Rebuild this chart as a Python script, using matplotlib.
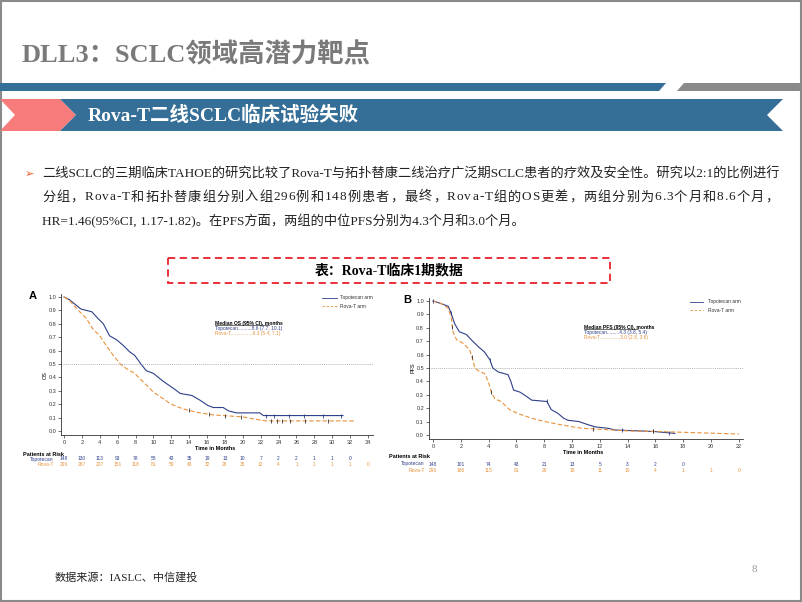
import numpy as np
import matplotlib
matplotlib.use("Agg")
import matplotlib.pyplot as plt
from matplotlib.patches import Polygon, Rectangle
from matplotlib import transforms

plt.rcParams['font.family'] = ['Liberation Serif', 'Noto Sans CJK SC', 'DejaVu Sans']

# ---- data ----
os_topo_t = [0, 0.6, 1.9, 2.5, 3.1, 3.8, 4.4, 5.1, 5.9, 6.6, 7.35, 7.9, 8.6, 9.2, 10.0, 11.1,
             12.2, 13.0, 14.3, 15.2, 16.1, 16.7, 17.8, 18.4, 19.3, 21.9, 22.3, 31.2]
os_topo_s = [1.0, 0.98, 0.91, 0.90, 0.89, 0.84, 0.80, 0.71, 0.68, 0.64, 0.59, 0.565, 0.50, 0.45, 0.43, 0.37,
             0.32, 0.28, 0.265, 0.23, 0.19, 0.175, 0.175, 0.15, 0.135, 0.135, 0.115, 0.115]
os_rova_t = [0, 0.6, 1.75, 2.5, 3.25, 4.0, 4.7, 5.5, 6.3, 7.0, 7.9, 8.8, 10.0, 11.1, 12.0, 13.3,
             14.8, 16.7, 18.9, 20.0, 21.2, 22.6, 32.4]
os_rova_s = [1.0, 0.975, 0.89, 0.84, 0.76, 0.71, 0.64, 0.565, 0.50, 0.465, 0.43, 0.37, 0.29, 0.24, 0.20, 0.165,
             0.14, 0.12, 0.11, 0.105, 0.09, 0.075, 0.075]
os_topo_cens = [22.6, 23.5, 25.2, 26.8, 29.0, 31.0]
os_rova_cens = [14.0, 16.2, 18.0, 19.8, 23.2, 23.8, 24.4, 25.3, 27.0, 29.5]

pfs_topo_t = [0, 0.6, 1.1, 1.3, 1.56, 1.9, 2.4, 2.76, 3.25, 3.7, 4.1, 4.3, 4.7, 5.4, 5.6, 5.8, 6.25,
              6.7, 7.1, 8.2, 8.5, 9.0, 9.4, 9.7, 10.5, 11.2, 11.7, 12.6, 13.1, 15.0, 16.0, 17.4]
pfs_topo_s = [1.0, 0.98, 0.96, 0.91, 0.83, 0.77, 0.75, 0.71, 0.66, 0.62, 0.56, 0.50, 0.47, 0.45, 0.40, 0.335, 0.32,
              0.29, 0.26, 0.25, 0.19, 0.16, 0.125, 0.11, 0.10, 0.075, 0.06, 0.05, 0.037, 0.03, 0.025, 0.012]
pfs_rova_t = [0, 0.6, 1.1, 1.32, 1.44, 1.7, 2.16, 2.64, 2.9, 3.0, 3.4, 3.7, 3.97, 4.2, 4.45, 4.9, 5.5,
              6.1, 7.1, 8.05, 9.25, 10.7, 12.1, 14.1, 16.5, 18.9, 22.0]
pfs_rova_s = [1.0, 0.98, 0.945, 0.87, 0.77, 0.71, 0.685, 0.635, 0.55, 0.50, 0.47, 0.46, 0.40, 0.32, 0.27, 0.25, 0.19,
              0.16, 0.125, 0.10, 0.075, 0.05, 0.042, 0.03, 0.025, 0.017, 0.007]
pfs_topo_cens = [0.0, 1.3, 4.1, 8.2, 13.6, 15.8, 17.0]
pfs_rova_cens = [1.4, 2.8, 4.2, 11.5, 15.8]

os_ticks = list(range(0, 36, 2))
os_risk_topo = [148, 130, 113, 93, 78, 58, 43, 35, 19, 13, 10, 7, 2, 2, 1, 1, 0]
os_risk_rova = [296, 267, 207, 151, 118, 81, 59, 43, 32, 26, 15, 12, 4, 1, 1, 1, 1, 0]
pfs_ticks = list(range(0, 24, 2))
pfs_risk_topo = [148, 101, 74, 43, 21, 13, 5, 3, 2, 0]
pfs_risk_rova = [296, 186, 115, 61, 26, 18, 11, 10, 4, 1, 1, 0]

BLUE = '#2f3f88'
ORANGE = '#e8923c'
BAR = '#356f97'

W, H = 802, 602
fig = plt.figure(figsize=(W / 100, H / 100), dpi=100)
bg = fig.add_axes([0, 0, 1, 1])
bg.set_xlim(0, W)
bg.set_ylim(H, 0)
bg.axis('off')
renderer = fig.canvas.get_renderer()

# slide frame and header
bg.add_patch(Rectangle((1, 1), W - 2.5, H - 2.5, fill=False, ec='#8a8a8a', lw=1.5))
bg.text(22, 55, 'DLL3：SCLC领域高潜力靶点', fontsize=19, fontweight='bold', color='#7a7a7a', va='center')
bg.add_patch(Polygon([(0, 83), (666, 83), (659, 91), (0, 91)], color=BAR, lw=0))
bg.add_patch(Polygon([(684, 83), (800, 83), (800, 91), (677, 91)], color='#8a8a8a', lw=0))
bg.add_patch(Polygon([(0, 99), (60, 99), (76, 115), (60, 131), (0, 131), (15, 115)], color='#f77b7b', lw=0))
bg.add_patch(Polygon([(60, 99), (783, 99), (767, 115), (783, 131), (60, 131), (76, 115)], color=BAR, lw=0))
bg.text(88, 115, 'Rova-T二线SCLC临床试验失败', fontsize=14, fontweight='bold', color='white', va='center')


def justified(text, x0, x1, y, **kw):
    # spread the characters of one line evenly between x0 and x1
    parts = [bg.text(0, y, ch, va='center', **kw) for ch in text]
    widths = [p.get_window_extent(renderer).width for p in parts]
    gap = (x1 - x0 - sum(widths)) / (len(parts) - 1)
    x = x0
    for p, w in zip(parts, widths):
        p.set_x(x)
        x += w + gap


# bullet text
bg.text(29, 174, '➢', fontsize=8, color='#e8561e', va='center', ha='center', family='DejaVu Sans')
lines = ['二线SCLC的三期临床TAHOE的研究比较了Rova-T与拓扑替康二线治疗广泛期SCLC患者的疗效及安全性。研究以2:1的比例进行',
         '分组，Rova-T和拓扑替康组分别入组296例和148例患者，最终，Rova-T组的OS更差，两组分别为6.3个月和8.6个月，',
         'HR=1.46(95%CI, 1.17-1.82)。在PFS方面，两组的中位PFS分别为4.3个月和3.0个月。']
bg.text(42, 174, lines[0], fontsize=9.5, color='#222222', va='center')
justified(lines[1], 42, 778, 197.5, fontsize=9.5, color='#222222')
bg.text(42, 221, lines[2], fontsize=9.5, color='#222222', va='center')

# red dashed title box
bg.add_patch(Rectangle((168, 258), 442, 25, fill=False, ec='#e8202a', lw=1.3, ls=(0, (4, 2.5))))
bg.text(389, 270.5, '表：Rova-T临床1期数据', fontsize=10, fontweight='bold', ha='center', va='center')

bg.text(55, 577, '数据来源：IASLC、中信建投', fontsize=8, va='center', color='#222222')
bg.text(752, 570, '8', fontsize=8, va='center', color='#9a9a9a')


def px_axes(l, r, t, b):
    return [l / W, 1 - b / H, (r - l) / W, (b - t) / H]


def km_at(t, s, c):
    return np.interp(c, t, s)


def km_panel(rect, xmax, ticks, topo, rova, cens, risk, labels, pos):
    ax = fig.add_axes(px_axes(*rect))
    ax.set_facecolor('none')
    ax.plot(topo[0], topo[1], color=BLUE, lw=0.8)
    ax.plot(rova[0], rova[1], color=ORANGE, lw=0.8, ls=(0, (4, 2)))
    ax.plot(cens[0], km_at(topo[0], topo[1], cens[0]), '|', color=BLUE, ms=2.5, mew=0.6)
    ax.plot(cens[1], km_at(rova[0], rova[1], cens[1]), '|', color='#333333', ms=2.5, mew=0.6)
    ax.axhline(0.5, color='#999999', lw=0.5, ls=(0, (1.5, 1.5)))
    ax.set_xlim(-0.3, xmax)
    ax.set_ylim(-0.03, 1.02)
    ax.set_xticks(ticks)
    ax.set_yticks(np.arange(0, 1.01, 0.1))
    ax.set_yticklabels([f'{v:.1f}' for v in np.arange(0, 1.01, 0.1)])
    for sp in ['top', 'right']:
        ax.spines[sp].set_visible(False)
    for sp in ['left', 'bottom']:
        ax.spines[sp].set_linewidth(0.6)
        ax.spines[sp].set_color('#333333')
    ax.tick_params(labelsize=4, length=2, width=0.5, pad=1.5, colors='#333333')
    for lab in ax.get_xticklabels() + ax.get_yticklabels():
        lab.set_family('Liberation Sans')

    # legend
    lx0, lx1, ltx, ly1, ly2 = pos['legend']
    bg.plot([lx0, lx1], [ly1, ly1], color=BLUE, lw=0.6)
    bg.plot([lx0, lx1], [ly2, ly2], color=ORANGE, lw=0.6, ls=(0, (3, 2)))
    bg.text(ltx, ly1, 'Topotecan arm', fontsize=3.5, va='center', family='Liberation Sans', color='#333333')
    bg.text(ltx, ly2, 'Rova-T arm', fontsize=3.5, va='center', family='Liberation Sans', color='#333333')

    # median box
    mx, my = pos['median']
    bg.text(mx, my, labels['median'], fontsize=3.6, fontweight='bold', va='center', family='Liberation Sans')
    bg.plot([mx, mx + 54], [my + 2.3, my + 2.3], color='black', lw=0.4)
    bg.text(mx, my + 5.5, labels['topo_med'], fontsize=3.5, va='center', color=BLUE, family='Liberation Sans')
    bg.text(mx, my + 11, labels['rova_med'], fontsize=3.5, va='center', color=ORANGE, family='Liberation Sans')

    px, py = pos['panel']
    bg.text(px, py, labels['panel'], fontsize=8, fontweight='bold', va='center', ha='center', family='Liberation Sans')
    yx, yy = pos['ylabel']
    bg.text(yx, yy, labels['ylabel'], fontsize=4, rotation=90, va='center', ha='center', family='Liberation Sans')
    tx, ty = pos['xlabel']
    bg.text(tx, ty, 'Time in Months', fontsize=4, fontweight='bold', va='center', ha='center', family='Liberation Sans')

    # at risk table
    rx, ry, rlab, r1, r2 = pos['risk']
    bg.text(rx, ry, 'Patients at Risk', fontsize=4, fontweight='bold', va='center', family='Liberation Sans')
    bg.text(rlab, r1, 'Topotecan', fontsize=3.6, va='center', ha='right', color=BLUE, family='Liberation Sans')
    bg.text(rlab, r2, 'Rova-T', fontsize=3.6, va='center', ha='right', color=ORANGE, family='Liberation Sans')
    tr = transforms.blended_transform_factory(ax.transData, bg.transData)
    for x, n in zip(ticks, risk[0]):
        ax.text(x, r1, str(n), transform=tr, fontsize=3.5, ha='center', va='center', color=BLUE,
                family='Liberation Sans', clip_on=False)
    for x, n in zip(ticks, risk[1]):
        ax.text(x, r2, str(n), transform=tr, fontsize=3.5, ha='center', va='center', color=ORANGE,
                family='Liberation Sans', clip_on=False)
    return ax


km_panel((61.3, 372.5, 294.3, 435), 34.5, os_ticks,
         (os_topo_t, os_topo_s), (os_rova_t, os_rova_s), (os_topo_cens, os_rova_cens),
         (os_risk_topo, os_risk_rova),
         {'median': 'Median OS (95% CI), months', 'topo_med': 'Topotecan..........8.6 (7.7, 10.1)',
          'rova_med': 'Rova-T................6.3 (5.4, 7.1)', 'panel': 'A', 'ylabel': 'OS'},
         {'legend': (322, 337, 340, 298, 306), 'median': (215, 323), 'panel': (33, 296),
          'ylabel': (45, 375), 'xlabel': (215, 449), 'risk': (23, 454, 54, 459, 464)})

km_panel((428.8, 743, 298.3, 439), 22.3, pfs_ticks,
         (pfs_topo_t, pfs_topo_s), (pfs_rova_t, pfs_rova_s), (pfs_topo_cens, pfs_rova_cens),
         (pfs_risk_topo, pfs_risk_rova),
         {'median': 'Median PFS (95% CI), months', 'topo_med': 'Topotecan.........4.3 (3.8, 5.4)',
          'rova_med': 'Rova-T...............3.0 (2.8, 3.6)', 'panel': 'B', 'ylabel': 'PFS'},
         {'legend': (690, 703, 708, 302, 310), 'median': (584, 327), 'panel': (407, 300),
          'ylabel': (413, 368), 'xlabel': (583, 453), 'risk': (389, 457, 425, 464, 470)})

fig.savefig('out.png', dpi=100)
